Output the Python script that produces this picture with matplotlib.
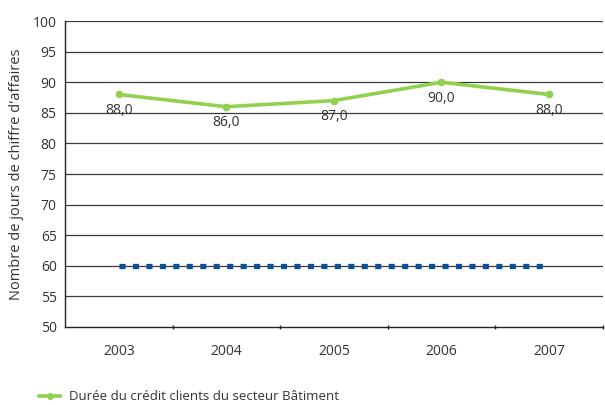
import matplotlib as mplib
mplib.use('Agg')
import matplotlib.pyplot as plt
from matplotlib.lines import Line2D

years = ['2003', '2004', '2005', '2006', '2007']
duree_credit = [88.0, 86.0, 87.0, 90.0, 88.0]
reference_60 = [60, 60, 60, 60, 60]
yticks = [50, 55, 60, 65, 70, 75, 80, 85, 90, 95, 100]

green = '#92d050'
blue = '#0b4f96'
txt = '#333333'

mplib.rc('font', family=['Open Sans', 'DejaVu Sans'], size=10)

fig = plt.figure(figsize=(6.05, 4.05), dpi=100)
ax = fig.add_axes([0.1074, 0.1926, 0.889, 0.7554])

x = list(range(len(years)))

for y in yticks[1:]:
    ax.axhline(y, color='#3a3a3a', linewidth=0.9, zorder=1)

# reference line at 60 days, square dots
ax.plot(x, reference_60, color=blue, linewidth=3.8, linestyle=(0, (1.15, 1.4)),
        dash_capstyle='butt', zorder=3)

ax.plot(x, duree_credit, color=green, linewidth=2.6, marker='o', markersize=4.5,
        zorder=4)
for xi, v in zip(x, duree_credit):
    ax.annotate(f'{v:.1f}'.replace('.', ','), (xi, v), xytext=(0, -6),
                textcoords='offset points', ha='center', va='top',
                color=txt, fontsize=10)

ax.set_xlim(-0.5, len(years) - 0.5)
ax.set_ylim(50, 100)
ax.set_yticks(yticks)
ax.set_yticklabels([str(t) for t in yticks], color=txt, fontsize=10)
ax.tick_params(axis='y', length=0, pad=6)

ax.set_xticks(x)
ax.set_xticklabels(years, color=txt, fontsize=10)
ax.tick_params(axis='x', length=0, pad=12)
ax.set_xticks([i + 0.5 for i in x], minor=True)
ax.tick_params(axis='x', which='minor', length=3, direction='inout', width=1,
               color='#222222')

for side in ['top', 'right']:
    ax.spines[side].set_visible(False)
for side in ['left', 'bottom']:
    ax.spines[side].set_color('#222222')
    ax.spines[side].set_linewidth(1.0)

ax.set_ylabel("Nombre de jours de chiffre d'affaires", color=txt, fontsize=10.5,
              labelpad=6)

handle = Line2D([], [], color=green, linewidth=2.6, marker='o', markersize=4)
fig.legend([handle], ['Durée du crédit clients du secteur Bâtiment'],
           loc='center left', bbox_to_anchor=(0.045, 0.02), frameon=False,
           fontsize=9.5, handlelength=1.6, handletextpad=0.7, labelcolor=txt)

plt.savefig('out.png', dpi=100)
plt.close('all')
